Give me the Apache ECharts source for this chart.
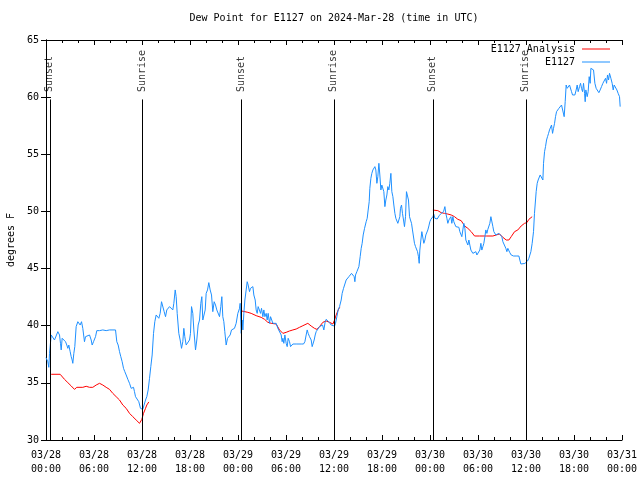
<!DOCTYPE html>
<html><head><meta charset="utf-8">
<script src="https://cdn.jsdelivr.net/npm/echarts@6/dist/echarts.min.js"></script>
<style>html,body{margin:0;padding:0;background:#fff}#c{width:640px;height:480px}</style>
</head><body><div id="c"></div>
<script>
const titleText = 'Dew Point for E1127 on 2024-Mar-28 (time in UTC)';
const yAxisName = 'degrees F';
const monthLabel = '03';
const firstDay = 28;
const seriesNames = ['E1127 Analysis', 'E1127'];
// sunrise / sunset markers: [hours since 03/28 00:00 UTC, label]
const sunEvents = [[0.47,'Sunset'],[12.08,'Sunrise'],[24.38,'Sunset'],[35.97,'Sunrise'],[48.35,'Sunset'],[59.97,'Sunrise']];
// analysis (hours, deg F), one array per night
const analysisNight1 = [[0.65,35.75],[1.77,35.75],[2.31,35.31],[2.73,35.02],[3.15,34.73],[3.56,34.43],[3.77,34.38],[3.85,34.61],[4.60,34.61],[5.02,34.70],[5.44,34.61],[5.85,34.61],[6.27,34.81],[6.69,34.96],[7.10,34.81],[7.52,34.61],[7.94,34.43],[8.35,34.08],[8.77,33.79],[9.19,33.50],[9.60,33.06],[10.02,32.77],[10.44,32.33],[10.85,32.04],[11.27,31.75],[11.69,31.46],[11.81,31.46],[11.98,31.81],[12.19,32.33],[12.44,32.77],[12.60,33.06],[12.85,33.33]];
const analysisNight2 = [[24.45,41.29],[25.23,41.17],[25.65,41.08],[26.27,40.88],[26.90,40.73],[27.32,40.56],[27.73,40.30],[28.15,40.21],[28.77,40.15],[29.19,39.63],[29.61,39.33],[30.02,39.42],[30.44,39.54],[30.86,39.63],[31.27,39.71],[31.69,39.86],[32.11,40.0],[32.73,40.21],[33.15,39.97],[33.56,39.77],[33.86,39.68],[34.19,39.92],[34.61,40.30],[35.02,40.41],[35.44,40.30],[35.86,40.15],[36.07,40.50],[36.27,40.94],[36.61,41.52],[36.77,41.61]];
const analysisNight3 = [[48.36,50.12],[48.56,50.12],[48.98,50.07],[49.40,49.89],[49.82,49.83],[50.23,49.77],[50.65,49.69],[51.07,49.54],[51.48,49.31],[51.90,49.19],[52.11,48.96],[52.32,48.73],[52.73,48.52],[53.15,48.23],[53.57,47.85],[54.19,47.85],[55.03,47.85],[55.86,47.85],[56.28,47.94],[56.69,48.03],[57.11,47.73],[57.53,47.50],[57.86,47.50],[58.15,47.79],[58.57,48.23],[58.98,48.38],[59.40,48.73],[59.82,48.96],[60.11,49.02],[60.36,49.31],[60.77,49.54]];
// station observations (hours, deg F)
const observations = [[0.0,37.2],[0.23,36.85],[0.35,36.36],[0.44,37.58],[0.65,39.19],[0.85,39.04],[1.06,38.75],[1.27,38.90],[1.48,39.48],[1.69,39.19],[1.81,38.46],[1.90,37.88],[2.02,38.90],[2.19,38.75],[2.44,38.60],[2.60,38.31],[2.73,38.02],[2.85,38.31],[3.02,37.73],[3.15,37.29],[3.27,37.0],[3.35,36.71],[3.48,37.58],[3.60,38.17],[3.77,39.92],[3.98,40.35],[4.10,40.21],[4.27,40.06],[4.44,40.35],[4.60,39.77],[4.81,38.60],[4.94,39.04],[5.10,39.19],[5.44,39.19],[5.65,38.75],[5.77,38.31],[5.94,38.60],[6.19,39.04],[6.35,39.57],[6.69,39.57],[7.10,39.63],[7.52,39.57],[7.94,39.63],[8.69,39.63],[8.85,38.60],[9.02,38.31],[9.19,37.73],[9.35,37.29],[9.52,36.85],[9.69,36.27],[9.85,35.98],[10.02,35.69],[10.23,35.31],[10.44,34.96],[10.65,34.52],[10.77,34.38],[10.94,34.61],[11.06,34.23],[11.19,33.79],[11.40,33.65],[11.60,33.35],[11.81,32.77],[12.10,32.68],[12.31,32.68],[12.44,33.50],[12.60,33.79],[12.77,34.38],[12.94,35.40],[13.10,36.42],[13.27,37.44],[13.44,39.33],[13.60,40.35],[13.77,40.94],[13.98,41.08],[14.10,40.65],[14.27,41.08],[14.44,42.10],[14.60,41.96],[14.77,41.23],[14.94,40.79],[15.10,41.38],[15.27,41.23],[15.44,41.67],[15.65,41.81],[15.85,41.38],[15.98,41.96],[16.15,43.13],[16.27,42.54],[16.40,41.08],[16.60,39.33],[16.77,38.75],[16.94,38.02],[17.10,38.60],[17.23,39.77],[17.35,39.04],[17.52,38.31],[17.73,38.46],[17.94,38.75],[18.06,39.33],[18.19,41.67],[18.35,41.08],[18.48,39.63],[18.69,37.88],[18.85,38.75],[19.02,40.06],[19.19,40.50],[19.35,41.96],[19.48,42.54],[19.60,40.50],[19.77,40.50],[19.90,41.38],[20.02,42.83],[20.19,43.13],[20.35,43.77],[20.52,43.13],[20.69,42.69],[20.85,41.23],[21.02,42.10],[21.19,41.81],[21.35,41.38],[21.52,41.23],[21.69,40.79],[21.85,41.67],[21.98,42.54],[22.10,40.79],[22.23,40.35],[22.35,39.48],[22.52,38.31],[22.69,38.90],[22.85,39.04],[23.02,39.19],[23.19,39.63],[23.35,39.48],[23.56,39.77],[23.77,40.21],[23.98,41.08],[24.19,41.52],[24.27,41.96],[24.40,39.33],[24.52,40.50],[24.61,39.63],[24.73,41.08],[24.86,42.25],[25.02,43.13],[25.15,43.85],[25.27,43.56],[25.44,42.98],[25.56,43.27],[25.69,43.13],[25.86,43.42],[25.98,42.69],[26.15,42.25],[26.27,41.38],[26.40,41.08],[26.52,41.67],[26.69,41.81],[26.82,41.08],[26.94,41.52],[27.11,40.79],[27.23,41.38],[27.36,40.79],[27.52,41.08],[27.65,40.50],[27.77,41.08],[27.94,40.21],[28.07,40.79],[28.19,40.79],[28.36,40.21],[28.57,40.21],[28.77,40.21],[28.98,39.77],[29.19,39.63],[29.40,39.19],[29.52,38.60],[29.61,38.90],[29.73,38.46],[29.86,39.19],[30.02,38.46],[30.15,38.17],[30.27,38.90],[30.44,38.60],[30.57,38.17],[30.69,38.31],[30.86,38.40],[31.27,38.40],[31.90,38.40],[32.19,38.40],[32.36,38.60],[32.52,39.19],[32.65,39.63],[32.77,39.33],[32.94,39.04],[33.15,38.75],[33.27,38.17],[33.36,38.31],[33.52,38.75],[33.65,39.19],[33.77,39.48],[33.98,39.63],[34.19,39.92],[34.40,40.06],[34.57,40.06],[34.73,39.63],[34.90,40.35],[35.02,40.56],[35.23,40.50],[35.44,40.27],[35.65,40.06],[35.86,39.92],[36.07,39.97],[36.19,40.21],[36.36,40.79],[36.52,41.38],[36.69,41.67],[36.90,42.25],[37.02,42.83],[37.19,43.27],[37.36,43.42],[37.52,44.0],[37.73,44.06],[37.86,44.29],[38.02,44.44],[38.19,44.58],[38.36,44.64],[38.52,44.29],[38.61,43.85],[38.69,44.44],[38.86,44.73],[39.02,44.64],[39.11,45.17],[39.27,46.04],[39.40,46.77],[39.52,47.21],[39.65,47.94],[39.82,48.52],[39.94,48.67],[40.02,49.10],[40.15,49.40],[40.27,50.12],[40.40,50.85],[40.48,52.02],[40.61,52.90],[40.73,53.33],[40.86,53.63],[40.98,53.77],[41.11,53.92],[41.23,53.63],[41.36,52.46],[41.48,53.04],[41.61,54.21],[41.73,53.19],[41.86,51.88],[41.98,52.31],[42.11,52.17],[42.23,51.73],[42.36,50.42],[42.48,51.0],[42.61,51.44],[42.73,52.17],[42.86,51.88],[42.98,52.46],[43.11,53.33],[43.23,51.73],[43.36,51.29],[43.48,50.56],[43.61,49.83],[43.73,49.40],[43.86,49.25],[43.98,48.96],[44.11,49.10],[44.23,49.54],[44.31,50.27],[44.44,50.56],[44.56,49.83],[44.69,49.25],[44.81,48.67],[44.94,49.54],[45.06,51.73],[45.19,51.88],[45.31,51.0],[45.44,49.54],[45.56,49.25],[45.69,48.96],[45.81,48.38],[45.94,48.23],[46.06,47.21],[46.19,46.92],[46.31,47.06],[46.44,46.48],[46.56,46.04],[46.65,45.46],[46.73,46.62],[46.86,47.50],[46.98,48.23],[47.11,48.38],[47.23,47.21],[47.36,47.50],[47.48,47.94],[47.61,48.08],[47.73,48.38],[47.86,48.73],[47.98,49.10],[48.11,49.31],[48.23,49.45],[48.36,49.54],[48.48,49.75],[48.61,49.40],[48.77,49.54],[48.90,49.34],[49.02,49.45],[49.15,49.63],[49.27,49.69],[49.40,49.83],[49.52,49.83],[49.69,49.98],[49.86,50.42],[49.98,49.83],[50.11,49.40],[50.23,48.96],[50.36,49.25],[50.48,49.10],[50.61,49.54],[50.73,48.96],[50.86,49.54],[50.98,49.10],[51.11,49.25],[51.23,48.67],[51.36,48.52],[51.48,48.52],[51.61,48.61],[51.73,48.23],[51.86,48.38],[51.98,47.79],[52.11,47.94],[52.23,48.96],[52.36,48.52],[52.48,47.50],[52.61,47.35],[52.73,47.06],[52.86,47.50],[52.98,47.06],[53.11,46.62],[53.23,46.48],[53.36,46.33],[53.48,46.33],[53.61,46.28],[53.73,46.48],[53.86,46.19],[53.98,46.33],[54.11,46.19],[54.23,46.62],[54.36,47.21],[54.48,46.62],[54.61,46.92],[54.73,47.21],[54.86,47.79],[54.98,48.38],[55.11,48.08],[55.23,48.43],[55.36,48.38],[55.48,48.96],[55.61,49.54],[55.73,49.54],[55.86,48.67],[55.98,48.23],[56.11,48.38],[56.23,47.94],[56.36,48.08],[56.48,47.94],[56.61,48.08],[56.73,48.14],[56.86,47.94],[56.98,47.79],[57.11,47.35],[57.23,47.21],[57.36,47.35],[57.48,46.77],[57.61,46.48],[57.73,46.77],[57.86,46.62],[57.98,46.39],[58.15,46.19],[58.27,46.10],[58.44,46.10],[58.77,46.10],[59.11,46.10],[59.23,45.75],[59.36,45.40],[59.61,45.40],[59.86,45.45],[60.02,45.55],[60.19,45.66],[60.36,45.9],[60.44,46.04],[60.61,46.48],[60.77,47.21],[60.94,48.23],[61.06,49.83],[61.19,51.0],[61.27,51.73],[61.40,52.46],[61.52,52.75],[61.65,52.90],[61.77,53.19],[61.94,53.33],[62.11,52.75],[62.19,54.21],[62.32,55.23],[62.44,55.67],[62.57,56.25],[62.69,56.54],[62.82,56.83],[62.94,57.13],[63.07,57.27],[63.19,57.56],[63.32,56.83],[63.44,57.27],[63.57,57.71],[63.69,58.29],[63.82,58.73],[63.94,58.88],[64.11,59.02],[64.27,59.17],[64.44,59.31],[64.61,59.31],[64.77,58.29],[64.90,59.60],[65.02,61.06],[65.15,60.77],[65.27,60.92],[65.44,61.06],[65.57,60.92],[65.69,60.48],[65.82,60.19],[65.94,60.19],[66.11,60.19],[66.27,60.63],[66.40,61.06],[66.52,60.48],[66.69,60.92],[66.82,61.21],[66.94,60.77],[67.07,60.48],[67.19,61.21],[67.32,60.33],[67.40,59.60],[67.48,60.63],[67.65,60.04],[67.77,60.48],[67.90,61.79],[68.02,61.21],[68.11,62.52],[68.27,62.52],[68.44,62.38],[68.61,61.21],[68.77,60.77],[68.94,60.63],[69.11,60.39],[69.27,60.63],[69.44,60.92],[69.61,61.21],[69.77,61.35],[69.94,61.65],[70.07,61.21],[70.19,61.94],[70.32,61.50],[70.44,62.08],[70.61,61.65],[70.77,61.21],[70.90,60.63],[71.02,61.06],[71.19,60.92],[71.36,60.63],[71.52,60.33],[71.69,60.04],[71.77,59.17]];

const FONT = "'DejaVu Sans Mono', monospace";
const FS = 10;
const analysisData = analysisNight1.concat([[18,'-']], analysisNight2, [[42,'-']], analysisNight3);

function pad2(n){ return (n < 10 ? '0' : '') + n; }
function xLabel(v){
  const day = firstDay + Math.floor(v / 24);
  const hr = v % 24;
  return monthLabel + '/' + pad2(day) + '\n' + pad2(hr) + ':00';
}

const axisCommon = {
  type: 'value', min: 0, max: 72, interval: 6,
  axisLine: { lineStyle: { color: '#000', width: 1 } },
  axisTick: { inside: true, length: 5, lineStyle: { color: '#000' } },
  minorTick: { show: true, splitNumber: 3, length: 3, lineStyle: { color: '#000' } },
  splitLine: { show: false }
};
const yCommon = {
  type: 'value', min: 30, max: 65, interval: 5,
  axisLine: { show: true, lineStyle: { color: '#000', width: 1 } },
  axisTick: { show: true, inside: true, length: 5, lineStyle: { color: '#000' } },
  splitLine: { show: false }
};

const chart = echarts.init(document.getElementById('c'), null, { renderer: 'canvas' });
chart.setOption({
  animation: false,
  backgroundColor: '#fff',
  title: {
    text: titleText, left: 334, top: 13, textAlign: 'center', padding: 0,
    textStyle: { fontFamily: FONT, fontSize: FS, fontWeight: 'normal', color: '#000' }
  },
  legend: [
    { data: [seriesNames[0]], right: 30, top: 44, padding: 0, align: 'right', icon: 'rect', itemWidth: 28, itemHeight: 1,
      textStyle: { fontFamily: FONT, fontSize: FS, color: '#000', padding: [0, 2, 0, 0] } },
    { data: [seriesNames[1]], right: 30, top: 57, padding: 0, align: 'right', icon: 'rect', itemWidth: 28, itemHeight: 1,
      textStyle: { fontFamily: FONT, fontSize: FS, color: '#000', padding: [0, 2, 0, 0] } }
  ],
  grid: { left: 46, right: 18, top: 40, bottom: 40, containLabel: false, outerBoundsMode: 'none' },
  xAxis: [
    Object.assign({}, axisCommon, { position: 'bottom',
      axisLabel: { formatter: xLabel, fontFamily: FONT, fontSize: FS, color: '#000', lineHeight: 14, margin: 8 } }),
    Object.assign({}, axisCommon, { position: 'top', axisLabel: { show: false } })
  ],
  yAxis: [
    Object.assign({}, yCommon, { position: 'left', name: yAxisName, nameLocation: 'middle', nameGap: 30,
      nameTextStyle: { fontFamily: FONT, fontSize: FS, color: '#000' },
      axisLabel: { fontFamily: FONT, fontSize: FS, color: '#000', margin: 7 } }),
    Object.assign({}, yCommon, { position: 'right', axisLabel: { show: false } })
  ],
  series: [
    { name: seriesNames[0], type: 'line', data: analysisData, showSymbol: false, connectNulls: false,
      color: '#ff0000', lineStyle: { width: 1, color: '#ff0000' }, z: 3 },
    { name: seriesNames[1], type: 'line', data: observations, showSymbol: false,
      color: '#1e90ff', lineStyle: { width: 1, color: '#1e90ff' }, z: 4,
      markLine: { silent: true, symbol: ['none', 'none'], label: { show: false },
        lineStyle: { color: '#000', width: 1, type: 'solid' },
        data: sunEvents.map(e => [{ coord: [e[0], 59.8] }, { coord: [e[0], 30] }]) } },
    { name: 'sun', type: 'scatter', data: sunEvents.map(e => [e[0], 60.45, e[1]]), symbolSize: 1,
      itemStyle: { color: 'rgba(0,0,0,0)' }, silent: true, z: 5,
      label: { show: true, position: 'inside', formatter: p => p.value[2], rotate: 90, align: 'left', verticalAlign: 'middle',
        fontFamily: FONT, fontSize: FS, color: '#000' } }
  ]
});
</script>
</body></html>
